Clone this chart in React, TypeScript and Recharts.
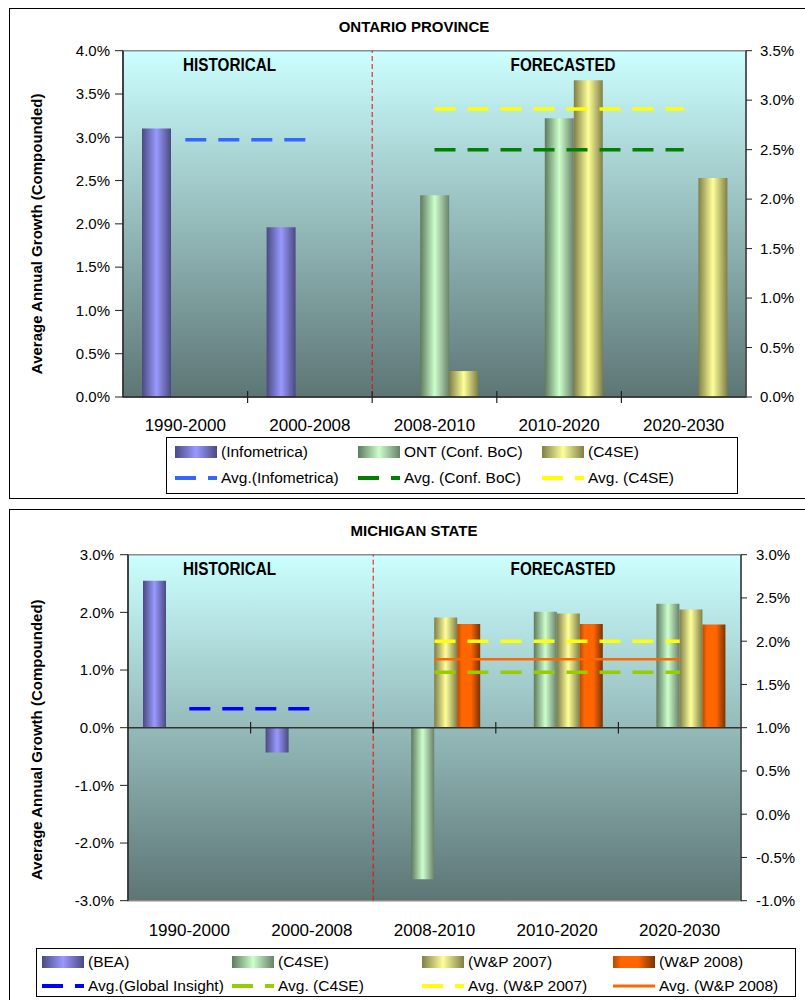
import React from 'react';
import {
  ComposedChart,
  Bar,
  Line,
  XAxis,
  YAxis,
  ReferenceLine,
  ReferenceArea,
} from 'recharts';

// ---------- shared ----------
const periods = ['1990-2000', '2000-2008', '2008-2010', '2010-2020', '2020-2030'];
// category whose right edge carries a boundary tick mark
const boundaryCats = ['1990-2000', '2000-2008', '2008-2010', '2010-2020'];
const historicalCats = ['1990-2000', '2000-2008'];
const forecastCats = ['2008-2010', '2020-2030'];

// ---------- Ontario (values in %) ----------
const onInfometrica = [3.1, 1.96, null, null, null];
const onConfBoc = [null, null, 2.33, 3.22, null];
const onC4se = [null, null, 0.3, 3.66, 2.53];
const onAvgInfometrica = [2.6, 2.6, null, null, null];
const onAvgConfBoc = [null, null, 2.5, 2.5, 2.5];
const onAvgC4se = [null, null, 2.91, 2.91, 2.91];
const onLeftTicks = [0, 0.5, 1, 1.5, 2, 2.5, 3, 3.5, 4];
const onRightTicks = [0, 0.5, 1, 1.5, 2, 2.5, 3, 3.5];

// ---------- Michigan (values in %) ----------
const miBea = [2.55, -0.43, null, null, null];
const miC4se = [null, null, -2.63, 2.01, 2.15];
const miWp2007 = [null, null, 1.91, 1.98, 2.05];
const miWp2008 = [null, null, 1.8, 1.8, 1.79];
const miAvgGlobalInsight = [1.22, 1.22, null, null, null];
const miAvgC4se = [null, null, 1.64, 1.64, 1.64];
const miAvgWp2007 = [null, null, 2.0, 2.0, 2.0];
const miAvgWp2008 = [null, null, 1.79, 1.79, 1.79];
const miLeftTicks = [-3, -2, -1, 0, 1, 2, 3];
const miRightTicks = [-1, -0.5, 0, 0.5, 1, 1.5, 2, 2.5, 3];

const ontarioData = periods.map((p, i) => ({
  period: p,
  infometrica: onInfometrica[i],
  confBoc: onConfBoc[i],
  c4se: onC4se[i],
  avgInfometrica: onAvgInfometrica[i],
  avgConfBoc: onAvgConfBoc[i],
  avgC4se: onAvgC4se[i],
}));

const michiganData = periods.map((p, i) => ({
  period: p,
  bea: miBea[i],
  c4se: miC4se[i],
  wp2007: miWp2007[i],
  wp2008: miWp2008[i],
  avgGlobal: miAvgGlobalInsight[i],
  avgC4se: miAvgC4se[i],
  avgWp2007: miAvgWp2007[i],
  avgWp2008: miAvgWp2008[i],
}));

const F = "'Liberation Sans', Arial, sans-serif";
const pct = (v: number) => v.toFixed(1) + '%';

const GRAD = {
  blue: ['#4A4A80', '#9999FF', '#4A4A80'],
  green: ['#5E7A5E', '#CCFFCC', '#6A806A'],
  yellow: ['#7F7F48', '#FFFF99', '#7F7F48'],
  orange: ['#B84A00', '#FF6600', '#FF6600', '#7A3300'],
};

function HGrad({ id, colors }: { id: string; colors: string[] }) {
  return (
    <linearGradient id={id} x1="0" y1="0" x2="1" y2="0">
      {colors.map((c, i) => (
        <stop key={i} offset={colors.length === 4 ? [0, 0.2, 0.6, 1][i] : i / (colors.length - 1)} stopColor={c} />
      ))}
    </linearGradient>
  );
}

function BgGrad({ id }: { id: string }) {
  return (
    <linearGradient id={id} x1="0" y1="0" x2="0" y2="1">
      <stop offset="0" stopColor="#CCFFFF" />
      <stop offset="1" stopColor="#5D7575" />
    </linearGradient>
  );
}

const cssGrad = (colors: string[]) =>
  colors.length === 4
    ? `linear-gradient(to right, ${colors[0]} 0%, ${colors[1]} 20%, ${colors[2]} 60%, ${colors[3]} 100%)`
    : `linear-gradient(to right, ${colors[0]}, ${colors[1]}, ${colors[2]})`;

function SwatchItem({ left, top, colors, label }: any) {
  return (
    <div style={{ position: 'absolute', left, top: top - 9, height: 18, display: 'flex', alignItems: 'center', whiteSpace: 'nowrap' }}>
      <div style={{ width: 42, height: 12, background: cssGrad(colors) }} />
      <span style={{ marginLeft: 4, fontFamily: F, fontSize: 15.5, color: '#000' }}>{label}</span>
    </div>
  );
}

function LineItem({ left, top, color, dashed, label }: any) {
  return (
    <div style={{ position: 'absolute', left, top: top - 9, height: 18, display: 'flex', alignItems: 'center', whiteSpace: 'nowrap' }}>
      <svg width={42} height={12} style={{ display: 'block' }}>
        <line x1={0} y1={6} x2={42} y2={6} stroke={color} strokeWidth={dashed ? 4 : 3} strokeDasharray={dashed ? '21 12' : undefined} />
      </svg>
      <span style={{ marginLeft: 4, fontFamily: F, fontSize: 15.5, color: '#000' }}>{label}</span>
    </div>
  );
}

const yTitle = (dy: number) => (props: any) => {
  const vb = props.viewBox;
  const cx = vb.x + 27;
  const cy = vb.y + vb.height / 2 + dy;
  return (
    <text
      x={cx}
      y={cy}
      transform={`rotate(-90 ${cx} ${cy})`}
      textAnchor="middle"
      dominantBaseline="central"
      fontFamily={F}
      fontWeight="bold"
      fontSize={15}
      fill="#000"
    >
      Average Annual Growth (Compounded)
    </text>
  );
};

const regionLabel = (text: string, dx: number, len: number) => (props: any) => {
  const vb = props.viewBox;
  return (
    <text
      x={vb.x + vb.width / 2 + dx}
      y={vb.y + 20}
      textAnchor="middle"
      fontFamily={F}
      fontWeight="bold"
      fontSize={18.5}
      textLength={len}
      lengthAdjust="spacingAndGlyphs"
      fill="#000"
    >
      {text}
    </text>
  );
};

const tickStyle = { fontFamily: F, fontSize: 15, fill: '#000' };
const xTickStyle = { fontFamily: F, fontSize: 17, fill: '#000' };

function OntarioChart() {
  return (
    <ComposedChart
      width={795}
      height={488}
      data={ontarioData}
      margin={{ top: 40.7, right: 0, bottom: 61, left: 0 }}
      barGap={0}
    >
      <defs>
        <BgGrad id="onBg" />
        <HGrad id="onBlue" colors={GRAD.blue} />
        <HGrad id="onGreen" colors={GRAD.green} />
        <HGrad id="onYellow" colors={GRAD.yellow} />
      </defs>
      <XAxis
        dataKey="period"
        tick={xTickStyle}
        tickLine={false}
        tickSize={6}
        tickMargin={16}
        height={40}
        axisLine={{ stroke: '#222', strokeWidth: 1.5 }}
        interval={0}
      />
      <YAxis
        yAxisId="left"
        domain={[0, 4]}
        ticks={onLeftTicks}
        tickFormatter={pct}
        width={113}
        tick={tickStyle}
        tickSize={8}
        tickMargin={5}
        axisLine={{ stroke: '#222', strokeWidth: 1.5 }}
        tickLine={{ stroke: '#222' }}
        interval={0}
        label={yTitle(10)}
      />
      <YAxis
        yAxisId="right"
        orientation="right"
        domain={[0, 3.5]}
        ticks={onRightTicks}
        tickFormatter={pct}
        width={59}
        tick={tickStyle}
        tickSize={6}
        tickMargin={8}
        axisLine={{ stroke: '#404040', strokeWidth: 1.5 }}
        tickLine={{ stroke: '#222' }}
        interval={0}
      />
      <ReferenceArea yAxisId="left" y1={0} y2={4} fill="url(#onBg)" fillOpacity={1} stroke="#8C8C8C" strokeWidth={1.5} />
      <ReferenceArea yAxisId="left" x1={historicalCats[0]} x2={historicalCats[1]} y1={0} y2={4} fill="none" stroke="none" label={regionLabel('HISTORICAL', -18, 93)} />
      <ReferenceArea yAxisId="left" x1={forecastCats[0]} x2={forecastCats[1]} y1={0} y2={4} fill="none" stroke="none" label={regionLabel('FORECASTED', 4, 105)} />
      <ReferenceLine yAxisId="left" x={historicalCats[1]} position="end" stroke="#FF0000" strokeWidth={1} strokeDasharray="5 3" />
      {boundaryCats.map((c) => (
        <ReferenceLine
          key={c}
          yAxisId="left"
          position="end"
          segment={[{ x: c, y: -0.07 }, { x: c, y: 0.07 }]}
          stroke="#222"
          strokeWidth={1.2}
          ifOverflow="visible"
        />
      ))}
      <Bar yAxisId="left" dataKey="infometrica" barSize={29} fill="url(#onBlue)" isAnimationActive={false} />
      <Bar yAxisId="left" dataKey="confBoc" barSize={29} fill="url(#onGreen)" isAnimationActive={false} />
      <Bar yAxisId="left" dataKey="c4se" barSize={29} fill="url(#onYellow)" isAnimationActive={false} />
      <Line yAxisId="right" dataKey="avgInfometrica" stroke="#3366FF" strokeWidth={3.5} strokeDasharray="21 12" dot={false} activeDot={false} isAnimationActive={false} />
      <Line yAxisId="right" dataKey="avgConfBoc" stroke="#008000" strokeWidth={3.5} strokeDasharray="21 12" dot={false} activeDot={false} isAnimationActive={false} />
      <Line yAxisId="right" dataKey="avgC4se" stroke="#FFFF00" strokeWidth={3.5} strokeDasharray="21 12" dot={false} activeDot={false} isAnimationActive={false} />
    </ComposedChart>
  );
}

function MichiganChart() {
  return (
    <ComposedChart
      width={795}
      height={490}
      data={michiganData}
      margin={{ top: 44.7, right: 0, bottom: 59.3, left: 0 }}
      barGap={0}
    >
      <defs>
        <BgGrad id="miBg" />
        <HGrad id="miBlue" colors={GRAD.blue} />
        <HGrad id="miGreen" colors={GRAD.green} />
        <HGrad id="miYellow" colors={GRAD.yellow} />
        <HGrad id="miOrange" colors={GRAD.orange} />
      </defs>
      <XAxis
        dataKey="period"
        tick={xTickStyle}
        tickLine={false}
        tickSize={6}
        tickMargin={17}
        height={40}
        axisLine={false}
        interval={0}
      />
      <YAxis
        yAxisId="left"
        domain={[-3, 3]}
        ticks={miLeftTicks}
        tickFormatter={pct}
        width={118}
        tick={tickStyle}
        tickSize={8}
        tickMargin={6}
        axisLine={{ stroke: '#222', strokeWidth: 1.5 }}
        tickLine={{ stroke: '#222' }}
        interval={0}
        label={yTitle(12)}
      />
      <YAxis
        yAxisId="right"
        orientation="right"
        domain={[-1, 3]}
        ticks={miRightTicks}
        tickFormatter={pct}
        width={64}
        tick={tickStyle}
        tickSize={6}
        tickMargin={9}
        axisLine={{ stroke: '#404040', strokeWidth: 1.5 }}
        tickLine={{ stroke: '#222' }}
        interval={0}
      />
      <ReferenceArea yAxisId="left" y1={-3} y2={3} fill="url(#miBg)" fillOpacity={1} stroke="#8C8C8C" strokeWidth={1.5} />
      <ReferenceArea yAxisId="left" x1={historicalCats[0]} x2={historicalCats[1]} y1={-3} y2={3} fill="none" stroke="none" label={regionLabel('HISTORICAL', -21, 93)} />
      <ReferenceArea yAxisId="left" x1={forecastCats[0]} x2={forecastCats[1]} y1={-3} y2={3} fill="none" stroke="none" label={regionLabel('FORECASTED', 6, 105)} />
      <ReferenceLine yAxisId="left" y={0} stroke="#333" strokeWidth={1.5} />
      <ReferenceLine yAxisId="left" x={historicalCats[1]} position="end" stroke="#FF0000" strokeWidth={1} strokeDasharray="5 3" />
      {boundaryCats.map((c) => (
        <ReferenceLine
          key={c}
          yAxisId="left"
          position="end"
          segment={[{ x: c, y: -0.1 }, { x: c, y: 0.1 }]}
          stroke="#222"
          strokeWidth={1.2}
          ifOverflow="visible"
        />
      ))}
      <Bar yAxisId="left" dataKey="bea" barSize={23} fill="url(#miBlue)" isAnimationActive={false} />
      <Bar yAxisId="left" dataKey="c4se" barSize={23} fill="url(#miGreen)" isAnimationActive={false} />
      <Bar yAxisId="left" dataKey="wp2007" barSize={23} fill="url(#miYellow)" isAnimationActive={false} />
      <Bar yAxisId="left" dataKey="wp2008" barSize={23} fill="url(#miOrange)" isAnimationActive={false} />
      <Line yAxisId="right" dataKey="avgGlobal" stroke="#0000FF" strokeWidth={3.5} strokeDasharray="21 12" dot={false} activeDot={false} isAnimationActive={false} />
      <Line yAxisId="right" dataKey="avgC4se" stroke="#99CC00" strokeWidth={3.5} strokeDasharray="21 12" dot={false} activeDot={false} isAnimationActive={false} />
      <Line yAxisId="right" dataKey="avgWp2007" stroke="#FFFF00" strokeWidth={3.5} strokeDasharray="21 12" dot={false} activeDot={false} isAnimationActive={false} />
      <Line yAxisId="right" dataKey="avgWp2008" stroke="#FF6600" strokeWidth={2.5} dot={false} activeDot={false} isAnimationActive={false} />
    </ComposedChart>
  );
}

const titleStyle: React.CSSProperties = {
  position: 'absolute',
  left: 314,
  width: 200,
  textAlign: 'center',
  fontFamily: F,
  fontWeight: 'bold',
  fontSize: 15,
  lineHeight: '18px',
  color: '#000',
};

export default function App() {
  return (
    <div style={{ position: 'absolute', left: 0, top: 0, width: 805, height: 1000, overflow: 'hidden', background: '#fff' }}>
      {/* Ontario frame */}
      <div style={{ position: 'absolute', left: 9, top: 8, width: 810, height: 491, border: '1px solid #000', boxSizing: 'border-box' }} />
      <div style={{ ...titleStyle, top: 18 }}>ONTARIO PROVINCE</div>
      <div style={{ position: 'absolute', left: 10, top: 10 }}>
        <OntarioChart />
      </div>
      <div style={{ position: 'absolute', left: 166, top: 437, width: 572, height: 57, border: '1px solid #000', boxSizing: 'border-box', background: '#fff' }}>
        <SwatchItem left={8} top={14} colors={GRAD.blue} label="(Infometrica)" />
        <SwatchItem left={191} top={14} colors={GRAD.green} label="ONT (Conf. BoC)" />
        <SwatchItem left={375} top={14} colors={GRAD.yellow} label="(C4SE)" />
        <LineItem left={8} top={40} color="#3366FF" dashed label="Avg.(Infometrica)" />
        <LineItem left={191} top={40} color="#008000" dashed label="Avg. (Conf. BoC)" />
        <LineItem left={375} top={40} color="#FFFF00" dashed label="Avg. (C4SE)" />
      </div>

      {/* Michigan frame */}
      <div style={{ position: 'absolute', left: 9, top: 509, width: 810, height: 500, border: '1px solid #000', boxSizing: 'border-box' }} />
      <div style={{ ...titleStyle, top: 522 }}>MICHIGAN STATE</div>
      <div style={{ position: 'absolute', left: 10, top: 510 }}>
        <MichiganChart />
      </div>
      <div style={{ position: 'absolute', left: 36, top: 948, width: 760, height: 49, border: '1px solid #000', boxSizing: 'border-box', background: '#fff' }}>
        <SwatchItem left={5} top={13} colors={GRAD.blue} label="(BEA)" />
        <SwatchItem left={195} top={13} colors={GRAD.green} label="(C4SE)" />
        <SwatchItem left={385} top={13} colors={GRAD.yellow} label="(W&P 2007)" />
        <SwatchItem left={576} top={13} colors={GRAD.orange} label="(W&P 2008)" />
        <LineItem left={5} top={37} color="#0000FF" dashed label="Avg.(Global Insight)" />
        <LineItem left={195} top={37} color="#99CC00" dashed label="Avg. (C4SE)" />
        <LineItem left={385} top={37} color="#FFFF00" dashed label="Avg. (W&P 2007)" />
        <LineItem left={576} top={37} color="#FF6600" label="Avg. (W&P 2008)" />
      </div>
    </div>
  );
}
